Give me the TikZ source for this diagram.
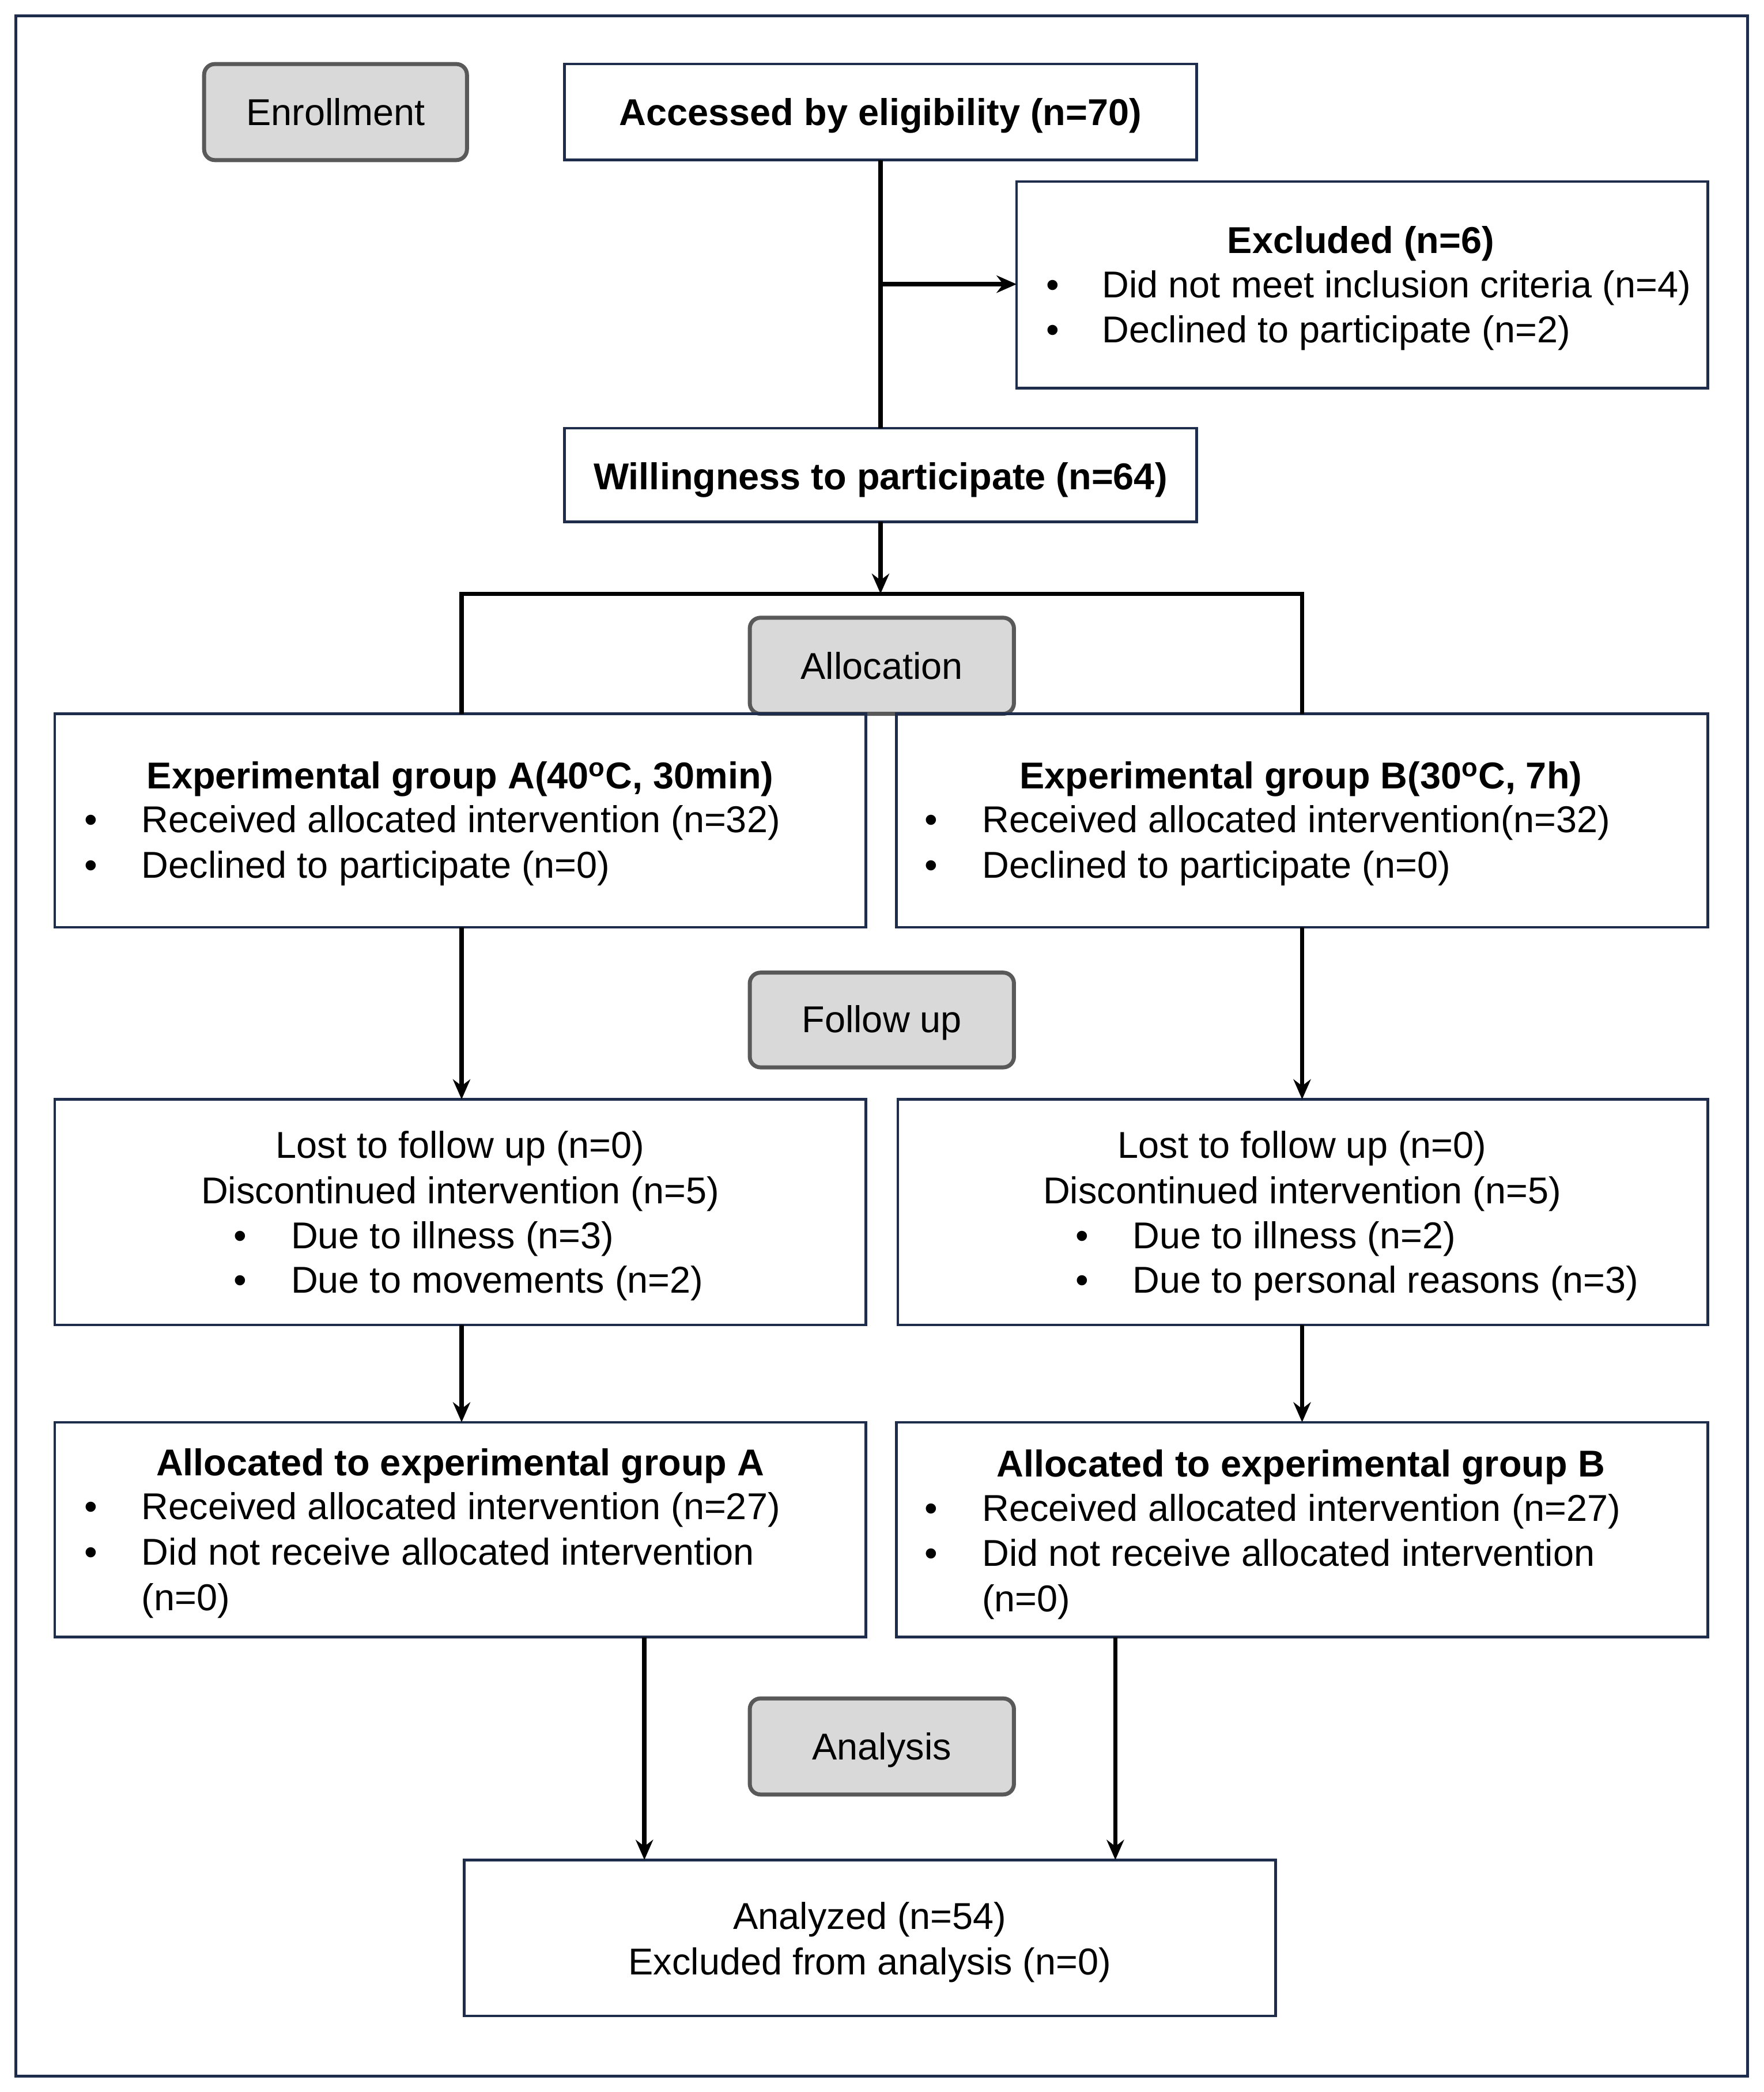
\documentclass[tikz,border=0pt]{standalone}
\usepackage{fontspec}
\setmainfont{Liberation Sans}
\usetikzlibrary{arrows.meta}
\definecolor{navy}{HTML}{1F2D4D}
\begin{document}
\begin{tikzpicture}[x=1pt,y=-1pt,font=\fontsize{28}{33}\selectfont,
 box/.style={draw=navy,line width=2pt},
 stage/.style={draw=black!65,fill=black!15,line width=3pt,rounded corners=8pt},
 t/.style={inner sep=0pt,anchor=base west},
 c/.style={inner sep=0pt,anchor=base},
 bf/.style={font=\fontsize{28}{33}\selectfont\bfseries},
 ln/.style={line width=3.2pt},
 ar/.style={line width=3.2pt,-{Stealth[length=15pt,width=13pt]}}]
\useasboundingbox (0,0) rectangle (1322,1568);
\draw[navy,line width=2pt] (12,12) rectangle (1310,1556);
% stage boxes
\draw[stage] (153,48) rectangle (350,120) node[c] (en) at (251.5,94) {Enrollment};
\draw[stage] (562,463) rectangle (760,535) node[c] (al) at (661,509) {Allocation};
\draw[stage] (562,729) rectangle (760,800) node[c] (fu) at (661,774) {Follow up};
\draw[stage] (562,1273) rectangle (760,1345) node[c] (an) at (661,1319) {Analysis};
% boxes
\draw[box] (423,48) rectangle (897,120);
\node[c,bf] (acc) at (660,94) {Accessed by eligibility (n=70)};
\draw[box] (762,136) rectangle (1280,291);
\node[c,bf] (exc) at (1020,190) {Excluded (n=6)};
\node[t] at (784,223) {•}; \node[t] at (826,223) {Did not meet inclusion criteria (n=4)};
\node[t] at (784,257) {•}; \node[t] at (826,257) {Declined to participate (n=2)};
\draw[box] (423,321) rectangle (897,391);
\node[c,bf] (wil) at (660,367) {Willingness to participate (n=64)};
% Exp groups
\draw[box] (41,535) rectangle (649,695);
\node[c,bf] at (345,591) {Experimental group A(40\textsuperscript{o}C, 30min)};
\node[t] at (63,624) {•}; \node[t] at (106,624) {Received allocated intervention (n=32)};
\node[t] at (63,658) {•}; \node[t] at (106,658) {Declined to participate (n=0)};
\draw[box] (672,535) rectangle (1280,695);
\node[c,bf] at (975,591) {Experimental group B(30\textsuperscript{o}C, 7h)};
\node[t] at (693,624) {•}; \node[t] at (736,624) {Received allocated intervention(n=32)};
\node[t] at (693,658) {•}; \node[t] at (736,658) {Declined to participate (n=0)};
% lost
\draw[box] (41,824) rectangle (649,993);
\node[c] at (345,868) {Lost to follow up (n=0)};
\node[c] at (345,902) {Discontinued intervention (n=5)};
\node[t] at (175,936) {•}; \node[t] at (218,936) {Due to illness (n=3)};
\node[t] at (175,969) {•}; \node[t] at (218,969) {Due to movements (n=2)};
\draw[box] (673,824) rectangle (1280,993);
\node[c] at (976,868) {Lost to follow up (n=0)};
\node[c] at (976,902) {Discontinued intervention (n=5)};
\node[t] at (806,936) {•}; \node[t] at (849,936) {Due to illness (n=2)};
\node[t] at (806,969) {•}; \node[t] at (849,969) {Due to personal reasons (n=3)};
% allocated
\draw[box] (41,1066) rectangle (649,1227);
\node[c,bf] at (345,1106) {Allocated to experimental group A};
\node[t] at (63,1139) {•}; \node[t] at (106,1139) {Received allocated intervention (n=27)};
\node[t] at (63,1173) {•}; \node[t] at (106,1173) {Did not receive allocated intervention};
\node[t] at (106,1207) {(n=0)};
\draw[box] (672,1066) rectangle (1280,1227);
\node[c,bf] at (975,1107) {Allocated to experimental group B};
\node[t] at (693,1140) {•}; \node[t] at (736,1140) {Received allocated intervention (n=27)};
\node[t] at (693,1174) {•}; \node[t] at (736,1174) {Did not receive allocated intervention};
\node[t] at (736,1208) {(n=0)};
% analyzed
\draw[box] (348,1394) rectangle (956,1511);
\node[c] at (652,1446) {Analyzed (n=54)};
\node[c] at (652,1480) {Excluded from analysis (n=0)};
% connectors
\coordinate (a1) at (660,120); \coordinate (a2) at (660,321); \coordinate (ab) at (660,213); \coordinate (ae) at (762,213);
\draw[ln] (a1) -- (a2);
\draw[ar] (ab) -- (ae);
\coordinate (w1) at (660,391); \coordinate (w2) at (660,445);
\draw[ar] (w1) -- (w2);
\draw[ln] (346,535) -- (346,445) -- (976,445) -- (976,535);
\draw[ar] (346,695) -- (346,824);
\draw[ar] (976,695) -- (976,824);
\draw[ar] (346,993) -- (346,1066);
\draw[ar] (976,993) -- (976,1066);
\draw[ar] (483,1227) -- (483,1394);
\draw[ar] (836,1227) -- (836,1394);
\end{tikzpicture}
\end{document}
